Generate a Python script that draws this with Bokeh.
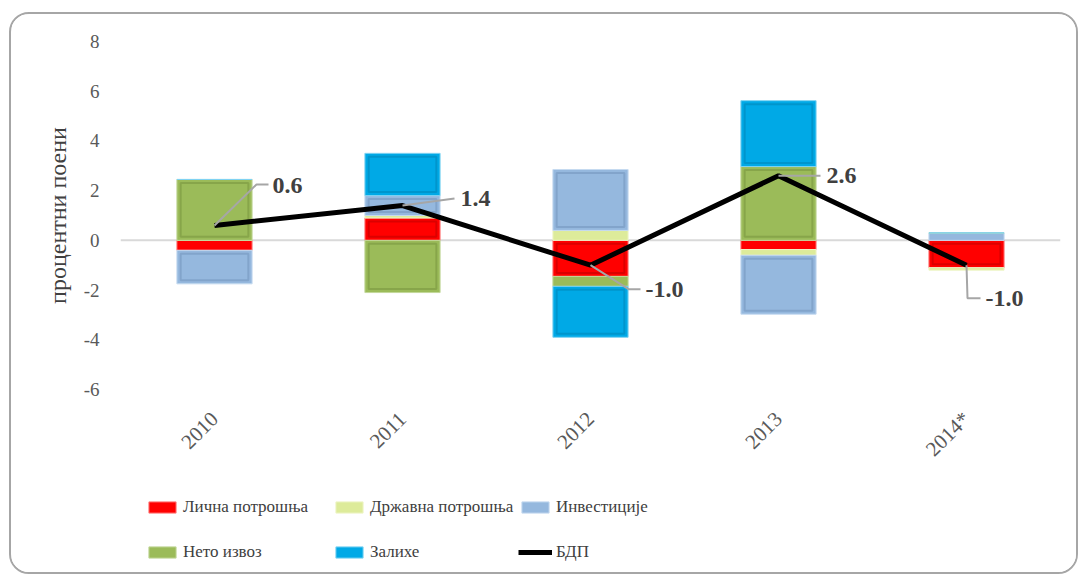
import numpy as np
from math import pi
from bokeh.plotting import figure
from bokeh.layouts import column
from bokeh.models import (FactorRange, Range1d, FixedTicker, Span, Legend,
                          LegendItem, ColumnDataSource)
from bokeh.core.properties import value
from bokeh.embed import file_html
from bokeh.resources import INLINE

# ---------------- data ----------------
years = ["2010", "2011", "2012", "2013", "2014*"]
licna_potrosnja = [-0.40, 0.90, -1.45, -0.37, -1.10]
drzavna_potrosnja = [0.00, 0.10, 0.40, -0.23, -0.10]
investicije = [-1.35, 0.80, 2.45, -2.37, 0.30]
neto_izvoz = [2.45, -2.10, -0.40, 2.97, 0.00]
zalihe = [0.00, 1.70, -2.05, 2.65, 0.00]
bdp = [0.6, 1.4, -1.0, 2.6, -1.0]
y_ticks = [-6, -4, -2, 0, 2, 4, 6, 8]

series_names = ["Лична потрошња", "Државна потрошња", "Инвестиције",
                "Нето извоз", "Залихе"]
series_values = [licna_potrosnja, drzavna_potrosnja, investicije,
                 neto_izvoz, zalihe]
gdp_name = "БДП"
y_axis_title = "процентни поени"

# ---------------- styles ----------------
fill_colors = ["#FF0000", "#DDEB9A", "#95B8DE", "#9BBB59", "#00A9E6"]
edge_colors = ["#FF8080", "#EEF5C8", "#C5DAF0", "#C3D89A", "#7FD3F2"]
dark_colors = ["#B00000", "#A9BA60", "#6A8CB4", "#6F8C37", "#007DAE"]
FONT = "Liberation Serif, Times New Roman, serif"
TXT = "#595959"

# label offsets (screen px) relative to each GDP point
label_dx = [58, 58, 55, 48, 19]
label_dy = [-40, -7, 24, 0, 33]
leader_paths = [
    [(0, 0), (42, -41), (54, -41)],
    [(0, 0), (52, -7)],
    [(0, 0), (38, 24), (50, 24)],
    [(0, 0), (42, 0)],
    [(0, 0), (1, 33), (14, 33)],
]

W, H = 1065, 466
ML, MR, MT, MB = 109, 16, 27, 91
frame_w = W - ML - MR
frame_h = H - MT - MB
y_min, y_max = -6, 8
px_per_cat = frame_w / len(years)
px_per_unit = frame_h / (y_max - y_min)
bevel = 3.5 / px_per_unit

p = figure(x_range=FactorRange(*years), y_range=Range1d(y_min, y_max),
           width=W, height=H, output_backend="svg", toolbar_location=None,
           min_border_left=ML, min_border_right=MR, min_border_top=MT,
           min_border_bottom=MB)
p.outline_line_color = None
p.xgrid.visible = False
p.ygrid.visible = False

# zero line
p.add_layout(Span(location=0, dimension="width", line_color="#D9D9D9",
                  line_width=2, level="underlay"))

# stacked bars
pos = np.zeros(len(years))
neg = np.zeros(len(years))
for name, vals, fc, ec, dc in zip(series_names, series_values, fill_colors,
                                  edge_colors, dark_colors):
    v = np.array(vals, dtype=float)
    bottom = np.where(v >= 0, pos, neg)
    top = bottom + v
    pos = np.where(v >= 0, pos + v, pos)
    neg = np.where(v < 0, neg + v, neg)
    src = ColumnDataSource(dict(x=years, top=top, bottom=bottom))
    p.vbar(x="x", top="top", bottom="bottom", width=0.40, source=src,
           fill_color=fc, line_color=ec, line_width=1)
    # bevel imitation: inner frame on the taller segments
    lo = np.minimum(top, bottom)
    hi = np.maximum(top, bottom)
    keep = (hi - lo) > 4 * bevel
    isrc = ColumnDataSource(dict(x=[y for y, k in zip(years, keep) if k],
                                 top=(hi - bevel)[keep],
                                 bottom=(lo + bevel)[keep]))
    p.vbar(x="x", top="top", bottom="bottom", width=0.36, source=isrc,
           fill_color=None, line_color=dc, line_alpha=0.45, line_width=2)

# GDP line
p.line(x=years, y=bdp, line_color="black", line_width=5)

# leader lines
xs, ys = [], []
for i, (path, v) in enumerate(zip(leader_paths, bdp)):
    xs.append([i + 0.5 + dx / px_per_cat for dx, dy in path])
    ys.append([v - dy / px_per_unit for dx, dy in path])
p.multi_line(xs=xs, ys=ys, line_color="#A6A6A6", line_width=2)

# data labels
lab_src = ColumnDataSource(dict(x=years, y=bdp,
                                t=[f"{v:.1f}" for v in bdp],
                                dx=label_dx, dy=label_dy))
p.text(x="x", y="y", text="t", x_offset="dx", y_offset="dy", source=lab_src,
       text_font=value(FONT), text_font_style="bold", text_font_size="24px",
       text_color="#404040", text_align="left", text_baseline="middle")

# axes
p.yaxis.ticker = FixedTicker(ticks=y_ticks)
p.yaxis.major_label_overrides = {t: str(t) for t in y_ticks}
p.yaxis.axis_line_color = None
p.yaxis.major_tick_line_color = None
p.yaxis.minor_tick_line_color = None
p.yaxis.major_tick_out = 0
p.yaxis.major_tick_in = 0
p.yaxis.major_label_standoff = 21
p.yaxis.major_label_text_font = FONT
p.yaxis.major_label_text_font_size = "19px"
p.yaxis.major_label_text_color = TXT
p.yaxis.axis_label = y_axis_title
p.yaxis.axis_label_text_font = FONT
p.yaxis.axis_label_text_font_style = "normal"
p.yaxis.axis_label_text_font_size = "24px"
p.yaxis.axis_label_text_color = "#404040"
p.yaxis.axis_label_standoff = 10

p.xaxis.axis_line_color = None
p.xaxis.major_tick_line_color = None
p.xaxis.major_tick_out = 0
p.xaxis.major_tick_in = 0
p.xaxis.major_label_orientation = pi / 4
p.xaxis.major_label_standoff = 26
p.xaxis.major_label_text_font = FONT
p.xaxis.major_label_text_font_size = "21px"
p.xaxis.major_label_text_color = TXT

# ---------------- legend (separate strip below the plot) ----------------
H2 = 92
lg = figure(width=W, height=H2, output_backend="svg", toolbar_location=None,
            x_range=Range1d(0, 1), y_range=Range1d(0, 1),
            x_axis_type=None, y_axis_type=None,
            min_border_left=ML, min_border_right=MR, min_border_top=0,
            min_border_bottom=0)
lg.outline_line_color = None
lg.xgrid.visible = False
lg.ygrid.visible = False
nan = [np.nan]
legend_renderers = []
for fc, ec in zip(fill_colors, edge_colors):
    legend_renderers.append(lg.vbar(x=nan, top=nan, bottom=nan, width=0.4,
                                    fill_color=fc, line_color=ec, line_width=1))
legend_renderers.append(lg.line(x=nan, y=nan, line_color="black", line_width=5))
legend_names = series_names + [gdp_name]
legend_locs = [(25, 55), (212, 55), (398, 55),
               (25, 10), (212, 10), (398, 10)]
for name, r, loc in zip(legend_names, legend_renderers, legend_locs):
    leg = Legend(items=[LegendItem(label=name, renderers=[r])], location=loc,
                 orientation="horizontal", glyph_width=34, glyph_height=14,
                 label_height=14, label_standoff=4, padding=0, margin=0,
                 spacing=0, border_line_color=None, background_fill_alpha=0,
                 label_text_font=FONT, label_text_font_size="17px",
                 label_text_color="#404040")
    lg.add_layout(leg, "center")

layout = column(p, lg, spacing=0)
layout.styles = {"border": "2px solid #A6A6A6", "border-radius": "20px",
                 "overflow": "hidden", "margin-left": "9px",
                 "margin-top": "12px", "background-color": "white"}

open("out.html", "w").write(file_html(layout, INLINE))
